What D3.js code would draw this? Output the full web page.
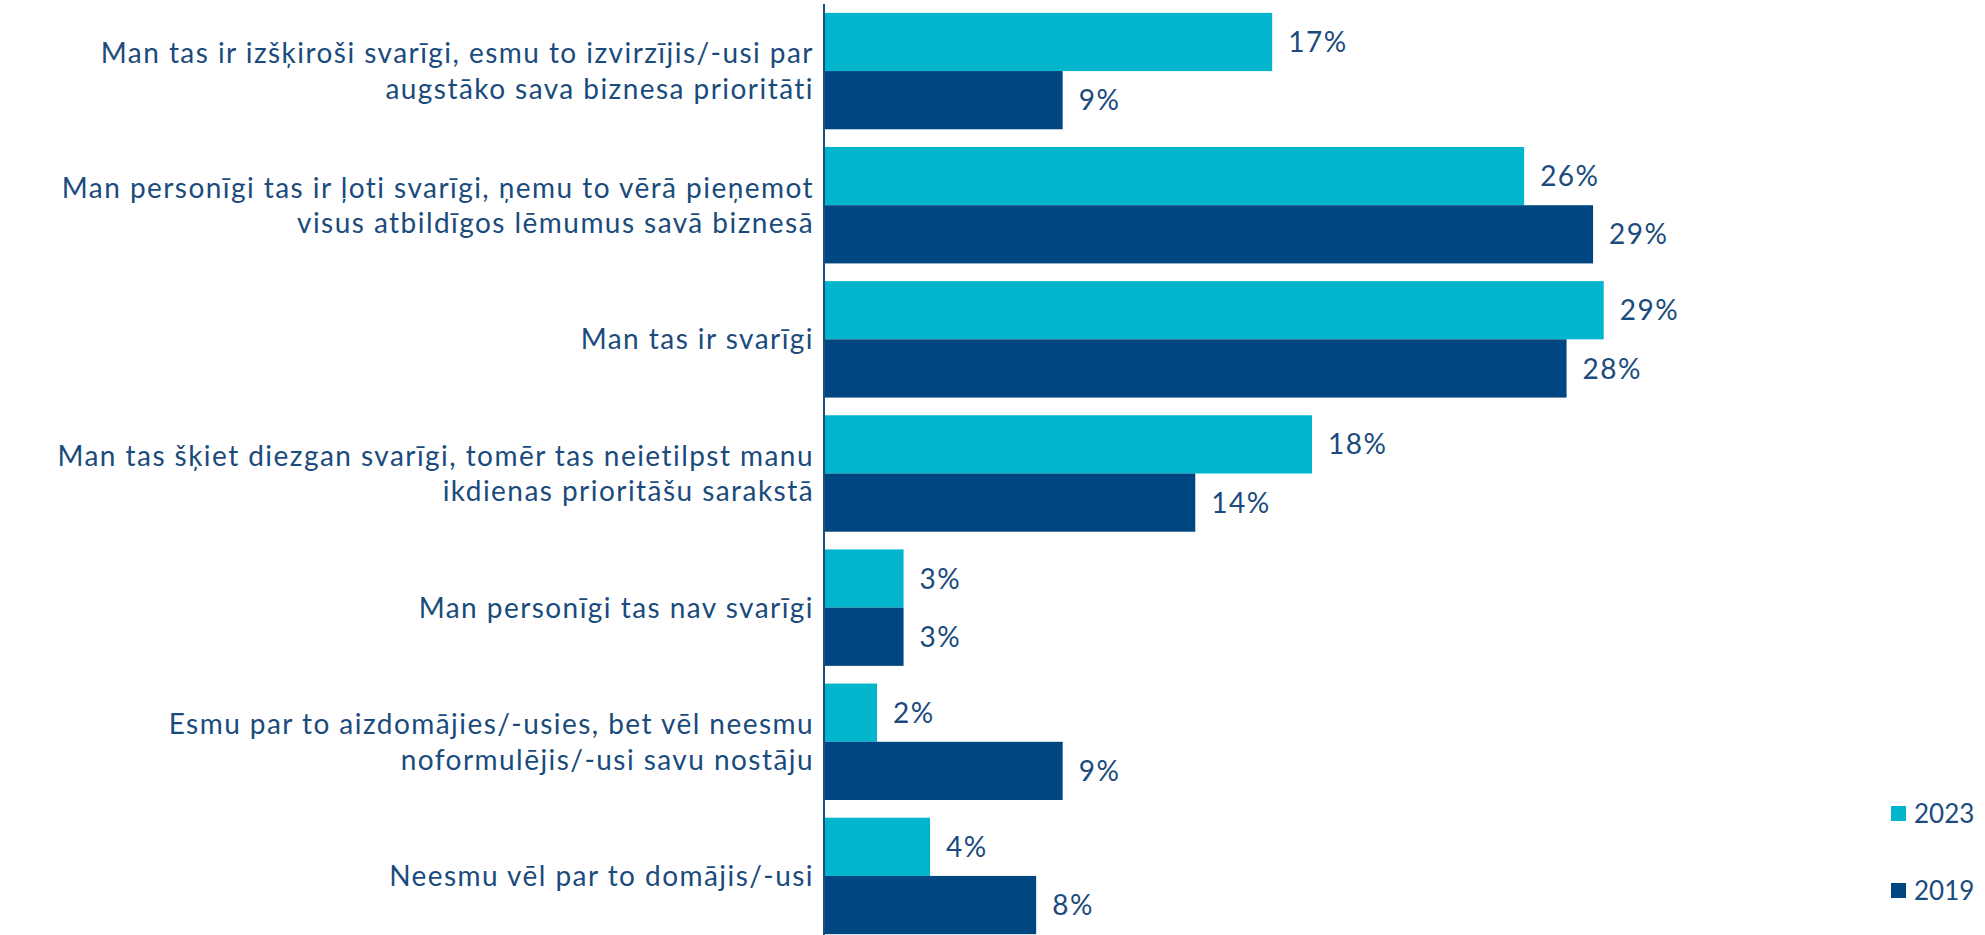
<!DOCTYPE html>
<html>
<head>
<meta charset="utf-8">
<script src="https://cdn.jsdelivr.net/npm/d3@7"></script>
<style>
  body { margin: 0; background: #fff; }
  text { font-family: Lato, "Noto Sans", sans-serif; fill: #1a4b7c; }
</style>
</head>
<body>
<svg id="chart"></svg>
<script>
// categories, one entry per group, split into the lines shown
var categories = [
  ["Man tas ir izšķiroši svarīgi, esmu to izvirzījis/-usi par", "augstāko sava biznesa prioritāti"],
  ["Man personīgi tas ir ļoti svarīgi, ņemu to vērā pieņemot", "visus atbildīgos lēmumus savā biznesā"],
  ["Man tas ir svarīgi"],
  ["Man tas šķiet diezgan svarīgi, tomēr tas neietilpst manu", "ikdienas prioritāšu sarakstā"],
  ["Man personīgi tas nav svarīgi"],
  ["Esmu par to aizdomājies/-usies, bet vēl neesmu", "noformulējis/-usi savu nostāju"],
  ["Neesmu vēl par to domājis/-usi"]
];
var years = ["2023", "2019"];
var values2023 = [16.9, 26.4, 29.4, 18.4, 3.0, 2.0, 4.0];
var values2019 = [9.0, 29.0, 28.0, 14.0, 3.0, 9.0, 8.0];

var width = 1985, height = 935;
var colors = { "2023": "#00b5cc", "2019": "#004680" };

var svg = d3.select("#chart")
  .attr("width", width)
  .attr("height", height);

var keys = categories.map(function(d, i) { return "c" + i; });

var y = d3.scaleBand()
  .domain(keys)
  .range([4, 943])
  .paddingInner(0.132)
  .paddingOuter(0.066);

var yInner = d3.scaleBand()
  .domain(years)
  .range([0, y.bandwidth()]);

var x = d3.scaleLinear()
  .domain([0, 40])
  .range([824, 824 + 40 * 26.52]);

var rows = [];
categories.forEach(function(c, i) {
  rows.push({ key: keys[i], year: "2023", value: values2023[i] });
  rows.push({ key: keys[i], year: "2019", value: values2019[i] });
});

svg.selectAll("rect.bar")
  .data(rows)
  .enter()
  .append("rect")
  .attr("class", "bar")
  .attr("x", x(0))
  .attr("y", d => y(d.key) + yInner(d.year))
  .attr("width", d => x(d.value) - x(0))
  .attr("height", yInner.bandwidth())
  .attr("fill", d => colors[d.year]);

svg.selectAll("text.val")
  .data(rows)
  .enter()
  .append("text")
  .attr("class", "val")
  .attr("x", d => x(d.value) + 16)
  .attr("y", d => y(d.key) + yInner(d.year) + yInner.bandwidth() / 2)
  .attr("dy", "0.36em")
  .style("font-size", "28px")
  .style("letter-spacing", "1.5px")
  .text(d => Math.round(d.value) + "%");

// category axis on the left
var yAxis = svg.append("g")
  .attr("transform", "translate(" + x(0) + ",0)")
  .call(d3.axisLeft(y).tickSize(0).tickFormat(""));
yAxis.select(".domain")
  .attr("stroke", "#1f4e79")
  .attr("stroke-width", 2)
  .attr("d", "M0,4V935");

var labels = svg.selectAll("text.cat")
  .data(categories)
  .enter()
  .append("text")
  .attr("class", "cat")
  .attr("x", 814)
  .attr("y", (d, i) => y(keys[i]) + y.bandwidth() / 2)
  .style("text-anchor", "end")
  .style("font-size", "28px")
  .style("letter-spacing", "1.45px");

var lineH = 35.5;
labels.each(function(d) {
  var t = d3.select(this);
  var off = -(d.length - 1) * lineH / 2;
  d.forEach(function(line, j) {
    t.append("tspan")
      .attr("x", 814)
      .attr("dy", j === 0 ? (off / 28 + 0.36) + "em" : lineH + "px")
      .text(line);
  });
});

// legend
var legend = svg.append("g");
var legendY = { "2023": 814, "2019": 891 };
years.forEach(function(yr) {
  legend.append("rect")
    .attr("x", 1891)
    .attr("y", legendY[yr] - 8)
    .attr("width", 15)
    .attr("height", 15)
    .attr("fill", colors[yr]);
  legend.append("text")
    .attr("x", 1914)
    .attr("y", legendY[yr])
    .attr("dy", "0.36em")
    .style("font-size", "26px")
    .text(yr);
});
</script>
</body>
</html>
